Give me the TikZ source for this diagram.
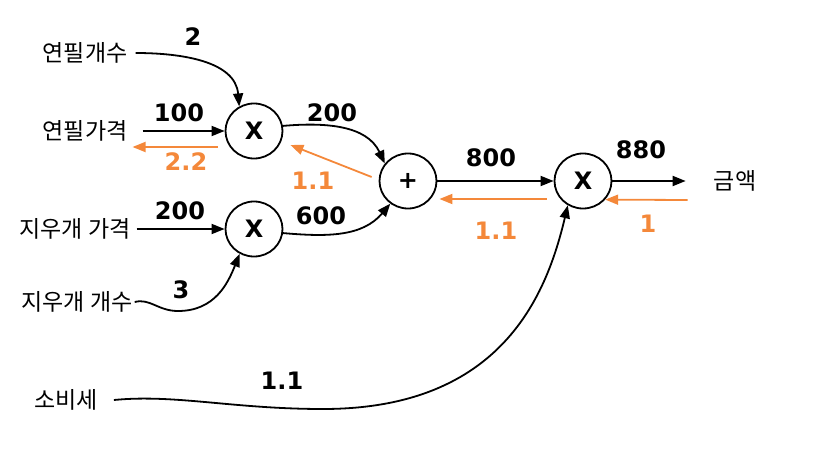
\documentclass[tikz,border=0pt]{standalone}
\usepackage{fontspec}
\usetikzlibrary{arrows.meta, shapes.geometric}
\newfontfamily\krfont{Noto Sans CJK KR}
\newfontfamily\numfont{DejaVu Sans}
\definecolor{gradorange}{HTML}{F4883A}

\begin{document}
\begin{tikzpicture}[x=1pt, y=1pt,
    every node/.style={inner sep=2pt},
    lbl/.style={font=\krfont\fontsize{23}{26}\selectfont},
    val/.style={font=\numfont\bfseries\fontsize{24}{28}\selectfont},
    grad/.style={val, text=gradorange},
    op/.style={draw, ellipse, line width=1.8pt, minimum width=57pt, minimum height=55pt,
               font=\numfont\bfseries\fontsize{24}{28}\selectfont},
    fwd/.style={-{Triangle[length=13pt,width=10pt]}, line width=1.8pt},
    bwd/.style={fwd, gradorange},
  ]
  \useasboundingbox (0,0) rectangle (827,448);

  % operation nodes
  \node[op] (mulA) at (254,317) {X};
  \node[op] (mulB) at (254,219) {X};
  \node[op] (addnode) at (408,267) {+};
  \node[op] (mulC) at (583,267) {X};

  % inputs and output
  \node[lbl] (pencilcnt) at (85,395) {연필개수};
  \node[lbl] (pencilprice) at (85,317) {연필가격};
  \node[lbl] (eraserprice) at (75,219) {지우개 가격};
  \node[lbl] (erasercnt) at (77,146) {지우개 개수};
  \node[lbl] (tax) at (66,48) {소비세};
  \node[lbl] (total) at (735,267) {금액};

  % forward values
  \node[val] (vpcnt) at (193,411) {2};
  \node[val] (vpprice) at (179,335) {100};
  \node[val] (vmulA) at (332,335) {200};
  \node[val] (veprice) at (180,237) {200};
  \node[val] (vmulB) at (321,232) {600};
  \node[val] (vecnt) at (181,158) {3};
  \node[val] (vadd) at (491,290) {800};
  \node[val] (vmulC) at (641,298) {880};
  \node[val] (vtax) at (282,67) {1.1};

  % backward values
  \node[grad] (gpprice) at (186,286) {2.2};
  \node[grad] (gmulA) at (313,267) {1.1};
  \node[grad] (gadd) at (496,217) {1.1};
  \node[grad] (gmulC) at (648,224) {1};

  \draw[fwd] ([xshift=6pt]pencilcnt.east) to[out=0,in=95] (mulA.121);
  \draw[fwd] ([xshift=13pt]pencilprice.east) -- (mulA.west);
  \draw[bwd] ([shift={(-7,-16)}]mulA.west) -- ([shift={(3,-16)}]pencilprice.east);
  \draw[fwd] (mulA.10) to[out=5,in=115] (addnode.143);
  \draw[bwd] ([shift={(-7,4)}]addnode.west) -- ([shift={(7,-14)}]mulA.east);
  \draw[fwd] ([xshift=4pt]eraserprice.east) -- (mulB.west);
  \draw[fwd] (erasercnt.east) .. controls (150,150) and (158,137) .. (178,137)
    .. controls (215,137) and (228,165) .. (mulB.240);
  \draw[fwd] (mulB.-8) to[out=-5,in=-130] (addnode.-128);
  \draw[fwd] (addnode.east) -- (mulC.west);
  \draw[bwd] ([shift={(-7,-18)}]mulC.west) -- ([shift={(2,-18)}]addnode.east);
  \draw[fwd, shorten >=26pt] (mulC.east) -- (total.west);
  \draw[bwd] ([shift={(-24,-19)}]total.west) -- (mulC.-40);
  \draw[fwd] ([xshift=14pt]tax.east) .. controls (175,54) and (233,39) .. (323,39)
    .. controls (503,39) and (547,155) .. (mulC.238);
\end{tikzpicture}
\end{document}
